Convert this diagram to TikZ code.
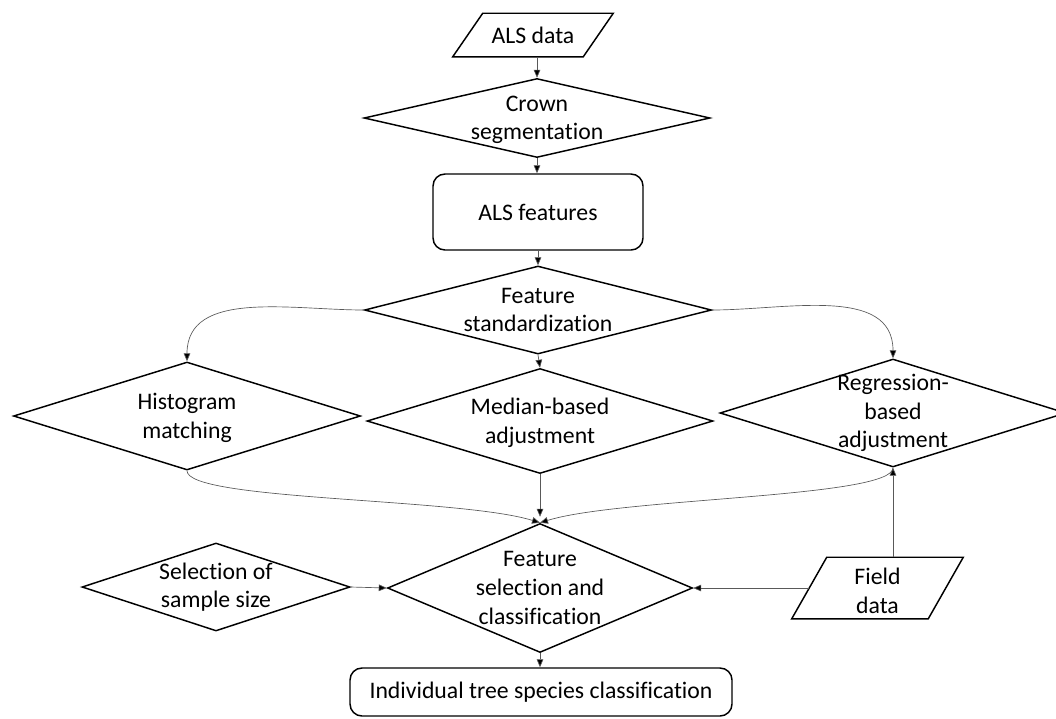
\documentclass[tikz,border=0pt]{standalone}
\usepackage{fontspec}
\setmainfont[Ligatures=NoCommon]{Carlito}
\usetikzlibrary{shapes.geometric,arrows.meta,calc}
\tikzset{
  shapeline/.style={draw=black, line width=1.1pt},
  dia/.style 2 args={shapeline, diamond, inner sep=0pt, minimum width=#1*0.75pt, minimum height=#2*0.75pt},
  rbox/.style 2 args={shapeline, rectangle, rounded corners=9pt, minimum width=#1*0.75pt, minimum height=#2*0.75pt, inner sep=0pt},
  pbox/.style 2 args={rectangle, inner sep=0pt, minimum width=#1*0.75pt, minimum height=#2*0.75pt},
  txt/.style={align=center, inner sep=0pt, font=\fontsize{17.8}{21.5}\selectfont},
  conn/.style={draw=black!65, line width=0.5pt, -{Triangle[length=6pt,width=5pt,fill=black]}},
}
\begin{document}
\begin{tikzpicture}[x=0.75pt, y=-0.75pt]
\useasboundingbox (0,0) rectangle (1056,718);
% nodes
\node[pbox={130}{43}] (als) at (533,35) {};
\draw[shapeline] ($(als.north west)+(15,0)$) -- ($(als.north east)+(15,0)$) -- ($(als.south east)+(-15,0)$) -- ($(als.south west)+(-15,0)$) -- cycle;
\node[txt] (alsT) at (als) {ALS data};

\node[dia={346}{79}] (crown) at (537,118) {};
\node[txt] (crownT) at ($(crown)+(0,2)$) {Crown\\segmentation};

\node[rbox={210}{76}] (feat) at (538,212) {};
\node[txt] (featT) at (feat) {ALS features};

\node[dia={347}{88}] (fstd) at (538,310) {};
\node[txt] (fstdT) at (fstd) {Feature\\standardization};

\node[dia={347}{108}] (hist) at (187,416) {};
\node[txt] (histT) at ($(hist)+(0,2)$) {Histogram\\matching};

\node[dia={346}{105}] (med) at (540,421) {};
\node[txt] (medT) at ($(med)+(0,2)$) {Median-based\\adjustment};

\node[dia={346}{108}] (reg) at (893,413) {};
\node[txt] (regT) at (reg) {Regression-\\based\\adjustment};

\node[dia={305}{129}] (fsel) at (540,588) {};
\node[txt] (fselT) at (fsel) {Feature\\selection and\\classification};

\node[dia={268}{88}] (sel) at (216,587) {};
\node[txt] (selT) at (sel) {Selection of\\sample size};

\node[pbox={136}{61}] (field) at (877.5,588) {};
\draw[shapeline] ($(field.north west)+(17.5,0)$) -- ($(field.north east)+(17.5,0)$) -- ($(field.south east)+(-17.5,0)$) -- ($(field.south west)+(-17.5,0)$) -- cycle;
\node[txt] (fieldT) at ($(field)+(0,3)$) {Field\\data};

\node[rbox={382}{48}] (indiv) at (541,692) {};
\node[txt] (indivT) at (indiv) {Individual tree species classification};

% connectors
\draw[conn] (als.south -| crown.north) -- (crown.north);
\draw[conn] (crown.south) -- (crown.south |- feat.north);
\draw[conn] (feat.south) -- (fstd.north);
\draw[conn] (fstd.west) to[out=180, in=90] (hist.north);
\draw[conn] (fstd.east) to[out=0, in=90] (reg.north);
\draw[conn] (fstd.south) -- (med.north);
\draw[conn] (med.south) -- ($(fsel.north)+(0,-6)$);
\draw[conn] (hist.south) .. controls +(0,30) and +(-80,-25) .. (fsel.north);
\draw[conn] (reg.south) .. controls +(0,30) and +(80,-25) .. (fsel.north);
\draw[conn] (sel.east) -- (fsel.west);
\draw[conn] (field.west) -- (fsel.east);
\draw[conn] (reg.south |- field.north) -- (reg.south);
\draw[conn] (fsel.south) -- (fsel.south |- indiv.north);
\end{tikzpicture}
\end{document}
